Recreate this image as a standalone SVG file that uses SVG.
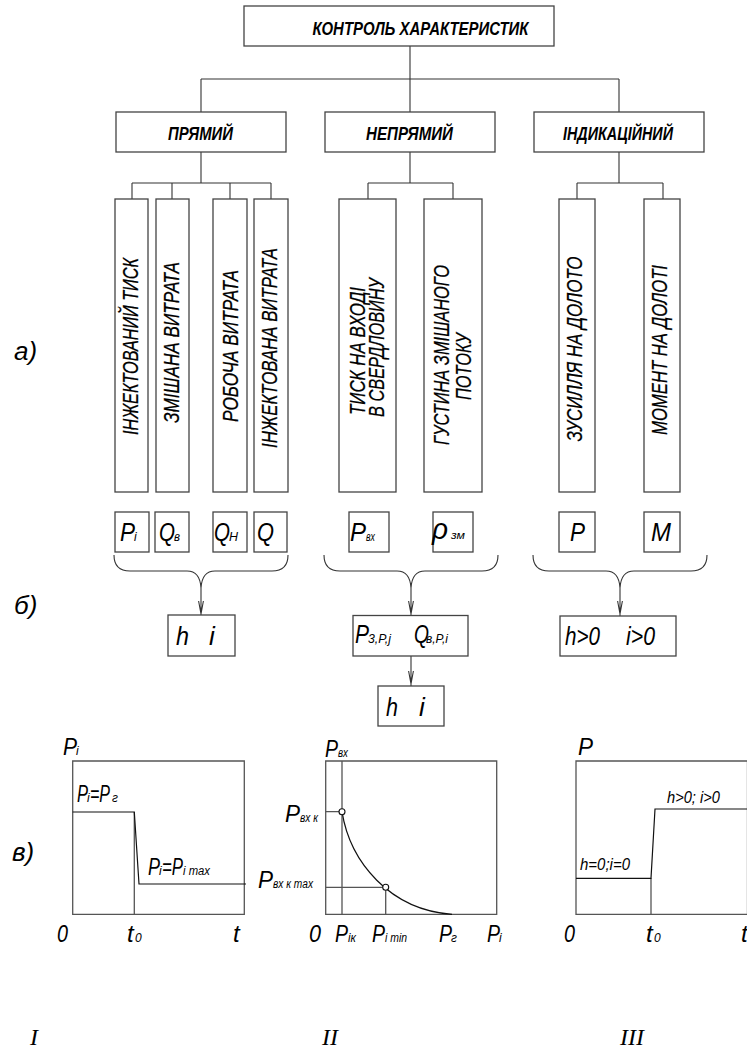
<svg xmlns="http://www.w3.org/2000/svg" width="747" height="1050" viewBox="0 0 747 1050">
<style>
.b{fill:#fff;stroke:#444;stroke-width:1.3}
.l{fill:none;stroke:#333;stroke-width:1.1}
.f{fill:none;stroke:#555;stroke-width:1.3}
.k{fill:none;stroke:#111;stroke-width:1.2}
.t{font-family:"Liberation Sans Narrow","Liberation Sans",Arial,sans-serif;font-style:italic;fill:#000}
.h{font-size:19px;font-weight:bold}
.v{font-size:21.5px;stroke:#000;stroke-width:0.25}
.s{font-size:26px}
.g{font-size:24px}
.u{font-size:12px}
.m{font-size:17px}
.r{font-family:"Liberation Serif","Times New Roman",serif;font-style:italic;font-size:24px;fill:#000}
</style>
<rect width="747" height="1050" fill="#fff"/>

<g id="connectors">
<path class="l" d="M410,46 V79 M201,79 H619 M201,79 V112 M410,79 V112 M619,79 V112"/>
<path class="l" d="M201,152 V183 M132,183 H271 M132,183 V199 M172,183 V199 M230,183 V199 M271,183 V199"/>
<path class="l" d="M410,152 V183 M368,183 H453 M368,183 V199 M453,183 V199"/>
<path class="l" d="M619,152 V183 M577,183 H663 M577,183 V199 M663,183 V199"/>
<path class="l" d="M114,555 Q114,571 130,571 L187,571 Q200,571 201,588 Q202,571 215,571 L272,571 Q288,571 288,555"/>
<path class="l" d="M324,555 Q324,571 340,571 L397,571 Q410,571 411,588 Q412,571 425,571 L482,571 Q498,571 498,555"/>
<path class="l" d="M533,555 Q533,571 549,571 L606,571 Q619,571 620,588 Q621,571 634,571 L691,571 Q707,571 707,555"/>
<path class="l" d="M201,588 V656 M198.6,601 L201,614 L203.4,601"/>
<path class="l" d="M411,588 V656 M408.6,601 L411,614 L413.4,601"/>
<path class="l" d="M411,656 V726 M408.6,671 L411,684 L413.4,671"/>
<path class="l" d="M620,588 V656 M617.6,601 L620,614 L622.4,601"/>
</g>

<g id="n-root"><rect class="b" x="244" y="6" width="310" height="40"/>
<text class="t h" x="312.5" y="35" textLength="216" lengthAdjust="spacingAndGlyphs">КОНТРОЛЬ ХАРАКТЕРИСТИК</text></g>

<g id="n-direct"><rect class="b" x="116" y="112" width="170" height="40"/>
<text class="t h" x="168" y="140" textLength="65" lengthAdjust="spacingAndGlyphs">ПРЯМИЙ</text></g>
<g id="n-indirect"><rect class="b" x="325" y="112" width="170" height="40"/>
<text class="t h" x="366" y="140" textLength="87" lengthAdjust="spacingAndGlyphs">НЕПРЯМИЙ</text></g>
<g id="n-indic"><rect class="b" x="534" y="112" width="170" height="40"/>
<text class="t h" x="563" y="140" textLength="110" lengthAdjust="spacingAndGlyphs">ІНДИКАЦІЙНИЙ</text></g>

<g id="n-v1"><rect class="b" x="115" y="199" width="33" height="293"/>
<text class="t v" transform="translate(137.5,346.5) rotate(-90)" text-anchor="middle" textLength="177" lengthAdjust="spacingAndGlyphs">ІНЖЕКТОВАНИЙ ТИСК</text></g>
<g id="n-v2"><rect class="b" x="156" y="199" width="33" height="293"/>
<text class="t v" transform="translate(179,342.5) rotate(-90)" text-anchor="middle" textLength="161" lengthAdjust="spacingAndGlyphs">ЗМІШАНА  ВИТРАТА</text></g>
<g id="n-v3"><rect class="b" x="213" y="199" width="34" height="293"/>
<text class="t v" transform="translate(237.5,346) rotate(-90)" text-anchor="middle" textLength="152" lengthAdjust="spacingAndGlyphs">РОБОЧА  ВИТРАТА</text></g>
<g id="n-v4"><rect class="b" x="254" y="199" width="34" height="293"/>
<text class="t v" transform="translate(277,348) rotate(-90)" text-anchor="middle" textLength="200" lengthAdjust="spacingAndGlyphs">ІНЖЕКТОВАНА  ВИТРАТА</text></g>
<g id="n-v5"><rect class="b" x="339" y="199" width="57" height="293"/>
<text class="t v" transform="translate(364.5,351) rotate(-90)" text-anchor="middle" textLength="128" lengthAdjust="spacingAndGlyphs">ТИСК  НА  ВХОДІ</text>
<text class="t v" transform="translate(383.5,347.5) rotate(-90)" text-anchor="middle" textLength="139" lengthAdjust="spacingAndGlyphs">В СВЕРДЛОВИНУ</text></g>
<g id="n-v6"><rect class="b" x="424" y="199" width="58" height="293"/>
<text class="t v" transform="translate(449,355) rotate(-90)" text-anchor="middle" textLength="180" lengthAdjust="spacingAndGlyphs">ГУСТИНА  ЗМІШАНОГО</text>
<text class="t v" transform="translate(470.5,366.5) rotate(-90)" text-anchor="middle" textLength="67" lengthAdjust="spacingAndGlyphs">ПОТОКУ</text></g>
<g id="n-v7"><rect class="b" x="559" y="199" width="36" height="293"/>
<text class="t v" transform="translate(581.5,349) rotate(-90)" text-anchor="middle" textLength="185" lengthAdjust="spacingAndGlyphs">ЗУСИЛЛЯ НА  ДОЛОТО</text></g>
<g id="n-v8"><rect class="b" x="644" y="199" width="36" height="293"/>
<text class="t v" transform="translate(667,350) rotate(-90)" text-anchor="middle" textLength="170" lengthAdjust="spacingAndGlyphs">МОМЕНТ  НА  ДОЛОТІ</text></g>

<g id="n-s1"><rect class="b" x="115" y="512" width="34" height="40"/>
<text class="t s" x="120" y="541" textLength="15" lengthAdjust="spacingAndGlyphs">P</text><text class="t u" x="134" y="541">і</text></g>
<g id="n-s2"><rect class="b" x="155" y="512" width="34" height="40"/>
<text class="t s" x="159" y="541" textLength="16" lengthAdjust="spacingAndGlyphs">Q</text><text class="t u" x="174" y="541" textLength="6" lengthAdjust="spacingAndGlyphs">в</text></g>
<g id="n-s3"><rect class="b" x="213" y="512" width="34" height="40"/>
<text class="t s" x="214" y="541" textLength="16" lengthAdjust="spacingAndGlyphs">Q</text><text class="t u" x="229" y="541" textLength="9" lengthAdjust="spacingAndGlyphs">Н</text></g>
<g id="n-s4"><rect class="b" x="254" y="512" width="33" height="40"/>
<text class="t s" x="257" y="541" textLength="17" lengthAdjust="spacingAndGlyphs">Q</text></g>
<g id="n-s5"><rect class="b" x="349" y="512" width="40" height="40"/>
<text class="t s" x="350" y="541" textLength="16" lengthAdjust="spacingAndGlyphs">P</text><text class="t u" x="366" y="541" textLength="9" lengthAdjust="spacingAndGlyphs">вх</text></g>
<g id="n-s6"><rect class="b" x="433" y="512" width="40" height="40"/>
<text class="t" style="font-size:30px" x="432" y="539" textLength="16" lengthAdjust="spacingAndGlyphs">ρ</text><text class="t" style="font-size:10px" x="451" y="539" textLength="14" lengthAdjust="spacingAndGlyphs">зм</text></g>
<g id="n-s7"><rect class="b" x="559" y="512" width="36" height="40"/>
<text class="t s" x="570" y="541" textLength="15" lengthAdjust="spacingAndGlyphs">P</text></g>
<g id="n-s8"><rect class="b" x="644" y="512" width="36" height="40"/>
<text class="t s" x="651" y="541" textLength="20" lengthAdjust="spacingAndGlyphs">M</text></g>

<g id="n-r1"><rect class="b" x="168" y="615" width="67" height="41"/>
<text class="t s" x="176" y="645" textLength="13" lengthAdjust="spacingAndGlyphs">h</text>
<text class="t s" x="209" y="645">i</text></g>
<g id="n-r2"><rect class="b" x="353" y="615.5" width="115" height="40.5"/>
<text class="t s" x="355" y="643" textLength="14" lengthAdjust="spacingAndGlyphs">P</text>
<text class="t" style="font-size:13px" x="368" y="643" textLength="23" lengthAdjust="spacingAndGlyphs">3,P,j</text>
<text class="t s" x="414" y="643" textLength="15" lengthAdjust="spacingAndGlyphs">Q</text>
<text class="t" style="font-size:13px" x="426" y="643" textLength="22" lengthAdjust="spacingAndGlyphs">в,P,i</text></g>
<g id="n-r3"><rect class="b" x="378" y="686" width="66" height="40"/>
<text class="t s" x="386" y="716" textLength="12" lengthAdjust="spacingAndGlyphs">h</text>
<text class="t s" x="419" y="716">i</text></g>
<g id="n-r4"><rect class="b" x="560" y="616" width="116" height="40"/>
<text class="t s" x="565" y="645" textLength="35" lengthAdjust="spacingAndGlyphs">h&gt;0</text>
<text class="t s" x="626" y="645" textLength="29" lengthAdjust="spacingAndGlyphs">i&gt;0</text></g>

<g id="row-labels">
<text class="t s" x="14" y="360">а)</text>
<text class="t s" x="14" y="614">б)</text>
<text class="t s" x="12" y="861">в)</text>
</g>

<g id="graph-I">
<path class="f" d="M72.7,761 H244.3 V914.3 H72.7 Z"/>
<path class="f" d="M134.3,812 V914.3"/>
<path class="k" d="M72.7,812 H134.3 L139,884 H246"/>
<text class="t g" x="63" y="755" textLength="14" lengthAdjust="spacingAndGlyphs">P</text><text class="t u" x="76" y="755">i</text>
<text class="t g" x="77" y="802" textLength="11" lengthAdjust="spacingAndGlyphs">P</text><text class="t u" x="87" y="802">i</text>
<text class="t g" x="90" y="802" textLength="20" lengthAdjust="spacingAndGlyphs">=P</text><text class="t u" x="112" y="802">г</text>
<text class="t g" x="148" y="875" textLength="12" lengthAdjust="spacingAndGlyphs">P</text><text class="t u" x="159" y="875">i</text>
<text class="t g" x="162" y="875" textLength="21" lengthAdjust="spacingAndGlyphs">=P</text><text class="t u" x="183" y="875" textLength="27" lengthAdjust="spacingAndGlyphs">i max</text>
<text class="t g" x="57" y="942" textLength="11" lengthAdjust="spacingAndGlyphs">0</text>
<text class="t g" x="127" y="942">t</text><text class="t u" x="135" y="942">0</text>
<text class="t g" x="233" y="942">t</text>
<text class="r" x="30" y="1045">I</text>
</g>

<g id="graph-II">
<path class="f" d="M325.7,761 H496.7 V914.3 H325.7 Z"/>
<path class="f" d="M342,761 V914.3 M325.7,811.7 H342 M325.7,887.3 H385.7 V914.3"/>
<path class="k" d="M342,811.7 C350,862 390,910 452,914.3"/>
<circle cx="342" cy="811.7" r="3" fill="#fff" stroke="#111" stroke-width="1.1"/>
<circle cx="385.7" cy="887.3" r="3" fill="#fff" stroke="#111" stroke-width="1.1"/>
<text class="t g" x="325" y="757" textLength="13" lengthAdjust="spacingAndGlyphs">P</text><text class="t u" x="338" y="757" textLength="10" lengthAdjust="spacingAndGlyphs">вх</text>
<text class="t g" x="285" y="822" textLength="15" lengthAdjust="spacingAndGlyphs">P</text><text class="t u" x="300" y="822" textLength="18" lengthAdjust="spacingAndGlyphs">вх к</text>
<text class="t g" x="258" y="888" textLength="15" lengthAdjust="spacingAndGlyphs">P</text><text class="t u" x="273" y="888" textLength="40" lengthAdjust="spacingAndGlyphs">вх к max</text>
<text class="t g" x="309" y="942" textLength="12" lengthAdjust="spacingAndGlyphs">0</text>
<text class="t g" x="335" y="942" textLength="13" lengthAdjust="spacingAndGlyphs">P</text><text class="t u" x="348" y="942" textLength="8" lengthAdjust="spacingAndGlyphs">ік</text>
<text class="t g" x="372" y="942" textLength="13" lengthAdjust="spacingAndGlyphs">P</text><text class="t u" x="385" y="942" textLength="22" lengthAdjust="spacingAndGlyphs">і min</text>
<text class="t g" x="439" y="942" textLength="13" lengthAdjust="spacingAndGlyphs">P</text><text class="t u" x="451" y="942">г</text>
<text class="t g" x="487" y="942" textLength="13" lengthAdjust="spacingAndGlyphs">P</text><text class="t u" x="499" y="942">і</text>
<text class="r" x="322" y="1045">II</text>
</g>

<g id="graph-III">
<path class="f" d="M576,761 H747.5 V914.3 H576 Z"/>
<path class="f" d="M651,878.3 V914.3"/>
<path class="k" d="M576,878.3 H651 L655,809 H747.5"/>
<text class="t g" x="578" y="755" textLength="15" lengthAdjust="spacingAndGlyphs">P</text>
<text class="t m" x="667" y="803" textLength="53" lengthAdjust="spacingAndGlyphs">h&gt;0; i&gt;0</text>
<text class="t m" x="580" y="870" textLength="50" lengthAdjust="spacingAndGlyphs">h=0;i=0</text>
<text class="t g" x="564" y="942" textLength="11" lengthAdjust="spacingAndGlyphs">0</text>
<text class="t g" x="646" y="942">t</text><text class="t u" x="654" y="942">0</text>
<text class="t g" x="741" y="942">t</text>
<text class="r" x="620" y="1045">III</text>
</g>
</svg>
